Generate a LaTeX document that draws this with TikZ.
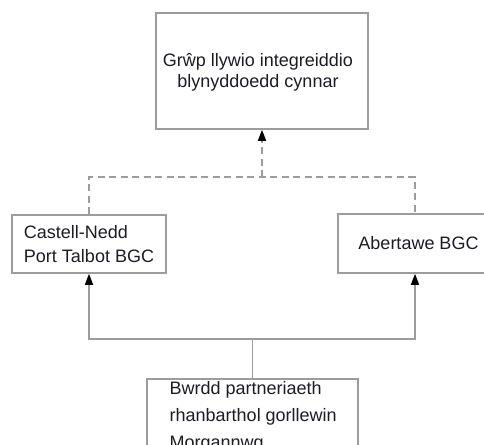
\documentclass[tikz,border=0pt]{standalone}
\usepackage{fontspec}
\setmainfont{Liberation Sans}
\usetikzlibrary{arrows.meta}
\definecolor{linec}{HTML}{9C9C9C}
\definecolor{txtc}{HTML}{1C1C24}
\begin{document}
\begin{tikzpicture}[x=1pt,y=-1pt,
  box/.style={draw=linec, line width=1.5pt, fill=white, rectangle, inner sep=0pt,
    text=txtc, font=\fontsize{18}{21}\selectfont},
  txt/.style={text=txtc, inner sep=0pt},
  conn/.style={draw=linec, line width=1.5pt},
  dconn/.style={conn, dash pattern=on 7pt off 4.5pt},
  arr/.style={-{Triangle[color=black,length=11pt,width=8pt]}}]
\useasboundingbox (0,0) rectangle (484,444);
\clip (0,0) rectangle (484,444);
\fill[white] (0,0) rectangle (484,444);
% top box
\node[box, minimum width=212pt, minimum height=116pt] (T) at (262,71) {};
\node[txt, align=center, font=\fontsize{18}{21}\selectfont] (Tt) at (258,72)
  {Grŵp llywio integreiddio\\blynyddoedd cynnar};
% left box
\node[box, minimum width=154pt, minimum height=58pt, align=left,
  font=\fontsize{18}{23.5}\selectfont] (L) at (89,244)
  {Castell-Nedd\\Port Talbot BGC};
% right box
\node[box, minimum width=154pt, minimum height=59pt] (R) at (415,243.5) {};
\node[txt, font=\fontsize{18}{21}\selectfont] (Rt) at (418.5,243) {Abertawe BGC};
% bottom box
\node[box, minimum width=211pt, minimum height=100pt, anchor=north west] (B) at (146,378) {};
\node[txt, anchor=north west, align=left, font=\fontsize{18}{27}\selectfont] (Bt) at (169.5,381.3)
  {Bwrdd partneriaeth\\rhanbarthol gorllewin\\Morgannwg};
% dashed connectors
\coordinate (j) at (262,177);
\draw[dconn] (L.north) |- (j) -| (R.north);
\draw[dconn, arr] (j) -- (T.south);
% solid connectors
\coordinate (s) at (B.north |- 0,339);
\draw[conn] (B.north) -- (s);
\draw[conn, arr] (s) -| (L.south);
\draw[conn, arr] (s) -| (R.south);
\end{tikzpicture}
\end{document}
